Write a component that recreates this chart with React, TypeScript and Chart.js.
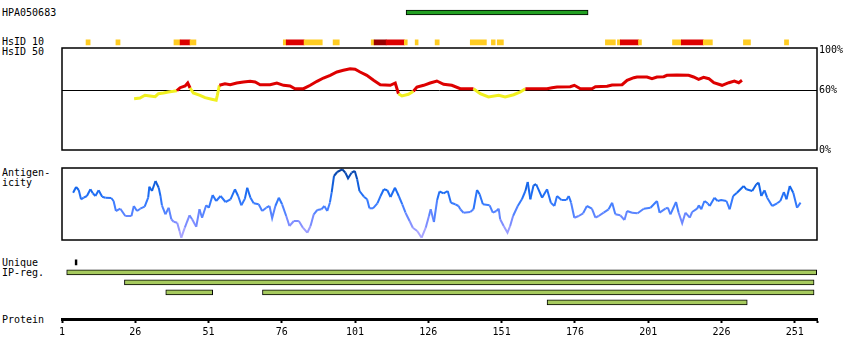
import React, { useEffect, useRef } from 'react';
import { Chart, registerables } from 'chart.js';

Chart.register(...registerables);

// ---------------- data ----------------
const X_MIN = 1;
const X_MAX = 258.6;

const hpaName = 'HPA050683';
const hpaRange = [118.4, 180.5];

// HsID 10 segments (residue start, end, level: 1 = gold, 2 = red, 3 = dark red)
const hsid10Start = [9.2, 19.4, 39.2, 41.3, 44.7, 76.5, 77.5, 83.6, 93.5, 106.5, 107.5, 111.6, 117.8, 121.5, 128.3, 140.3, 147.5, 149.5, 186.4, 190.5, 191.5, 197.7, 209.3, 212.3, 219.8, 233.5, 247.5];
const hsid10End = [10.6, 20.8, 41.3, 44.7, 46.7, 77.5, 83.6, 89.8, 95.6, 107.5, 111.6, 117.8, 118.8, 122.5, 129.7, 145.8, 148.8, 151.6, 189.8, 191.5, 197.7, 198.7, 212.3, 219.8, 222.9, 235.9, 248.9];
const hsid10Level = [1, 1, 1, 2, 1, 1, 2, 1, 1, 1, 3, 2, 1, 1, 1, 1, 1, 1, 1, 1, 2, 1, 1, 2, 1, 1, 1];

// HsID 50 (% identity)
const hsid50Pos = [25.6, 27.6, 29.3, 31, 32.8, 33.9, 35.6, 37.3, 39, 40.2, 41.3, 43, 43.9, 44.7, 45.8, 48.1, 49.8, 52.1, 53.6, 54, 54.7, 56.6, 58.4, 60.6, 62.9, 65.2, 66.9, 68.6, 72, 74.3, 76.6, 78.8, 80.5, 83.4, 85.7, 88, 90.2, 92.5, 94.8, 97, 99.3, 101, 102.7, 105, 107.3, 109.6, 113, 114.7, 115.8, 117, 119.2, 120.9, 122.1, 124.4, 126.6, 128.9, 131.2, 134, 136.9, 141.4, 143.7, 146.5, 150, 152.2, 155.1, 157.4, 159.1, 166.5, 168.2, 169.9, 174.4, 175.8, 177.9, 181.8, 183, 187, 188.7, 192.1, 193.8, 196.1, 197.2, 200.6, 202.3, 204, 206.3, 207.4, 210.8, 214.8, 216.5, 218.2, 219.9, 221.7, 223.4, 226.2, 228.5, 230.4, 231.9, 233];
const hsid50Val = [51.3, 52, 54.7, 54, 53.3, 56.3, 57, 58, 58.7, 59.3, 62.3, 64, 67, 62, 57, 54.7, 52.3, 50.7, 49.7, 54.7, 64.7, 66.3, 65.3, 67, 68, 68.7, 68, 65.3, 65.3, 67, 64.7, 64, 61.3, 61.3, 64.7, 68.7, 72, 74.7, 78, 79.7, 81.3, 80.7, 78, 74.7, 69.7, 65.3, 64.7, 67, 56.3, 54, 55.7, 58.7, 63, 64.7, 67, 69, 65.7, 64.7, 61.3, 61.3, 56.3, 53, 54.7, 53, 55.3, 58, 61.3, 61.3, 62.3, 63, 63.3, 64.7, 61.3, 61.3, 63.3, 63.7, 65, 65.3, 69.7, 72.3, 73, 73, 71.3, 73, 73.3, 74.7, 75, 74.7, 73, 70.7, 72.7, 71.3, 67.3, 64.7, 67.3, 69, 67.3, 69.7];

// Antigenicity score
const antPos = [4.8, 5.8, 6.7, 7.5, 8.4, 9.5, 10.7, 11.5, 12.4, 13.5, 14.7, 15.8, 17.8, 18.6, 19.4, 20.9, 22.6, 24.7, 25.5, 26.6, 27.7, 29.2, 30.4, 30.8, 31.7, 32.9, 34.0, 34.6, 35.1, 36.3, 37.4, 38.3, 39.1, 40.3, 41.1, 41.7, 42.9, 44.5, 45.4, 46.8, 47.9, 48.8, 50.2, 51.1, 52.4, 53.6, 55.1, 56.8, 58.5, 60.0, 61.1, 62.2, 63.4, 64.2, 65.3, 66.4, 68.1, 69.3, 70.7, 71.8, 72.7, 73.8, 75.0, 76.1, 77.5, 78.6, 80.1, 81.8, 83.2, 84.7, 85.8, 86.9, 88.1, 89.5, 90.5, 91.5, 92.4, 93.0, 93.8, 94.9, 96.6, 97.7, 98.6, 99.8, 100.9, 101.7, 102.5, 104.0, 105.1, 105.9, 107.1, 108.6, 109.7, 110.8, 112.0, 113.1, 114.6, 115.9, 117.1, 118.2, 119.6, 120.7, 122.2, 123.7, 125.1, 126.2, 126.8, 127.9, 129.0, 129.8, 131.2, 132.6, 133.7, 135.2, 136.3, 136.9, 138.0, 140.3, 141.4, 142.6, 143.5, 144.6, 146.9, 148.0, 149.2, 150.0, 150.5, 151.7, 153.0, 153.9, 154.9, 156.5, 157.9, 159.1, 159.9, 160.8, 161.9, 162.8, 164.8, 166.5, 167.8, 169.0, 169.9, 171.4, 173.1, 173.9, 174.7, 175.8, 177.3, 178.8, 180.1, 181.8, 183.0, 184.1, 185.8, 187.5, 188.7, 189.8, 191.5, 192.9, 193.8, 195.5, 197.4, 199.5, 201.8, 204.0, 204.9, 206.9, 207.7, 208.6, 210.5, 211.4, 212.6, 213.7, 215.2, 216.0, 217.7, 218.3, 219.1, 220.2, 221.3, 222.0, 223.6, 224.7, 225.9, 227.7, 228.8, 230.0, 231.3, 233.6, 234.5, 236.5, 237.9, 238.7, 239.6, 240.7, 241.6, 243.3, 245.0, 246.1, 247.3, 248.2, 249.3, 250.5, 251.8, 253.0];
const antVal = [47.3, 53, 50, 40.7, 42.3, 44, 50.7, 46.7, 44, 49.7, 43.3, 42.3, 42, 39, 29, 31.3, 24, 24, 34, 29, 31.3, 33.3, 42.3, 53.3, 49, 59, 52.3, 44, 34.7, 25.7, 32.3, 20.7, 18.3, 17.3, 9, 2.3, 12.3, 24.7, 20.7, 13.3, 30.7, 22.3, 34.7, 32.3, 45, 39, 44, 38, 40.7, 50.7, 44, 34.7, 41.3, 52.3, 42.3, 36.7, 35.7, 29, 32.3, 34, 21.7, 34, 42.3, 35.7, 24, 14, 19, 19, 12.3, 7.3, 14, 25.7, 30, 30.7, 34, 29, 37.3, 47.3, 64, 68, 70.7, 67.3, 61.7, 67.3, 69, 60.7, 49, 43.3, 40.7, 31.7, 31.7, 36.7, 44, 50.7, 49.7, 43, 52.3, 44, 35.7, 27.3, 19, 12.3, 9, 2.3, 12.3, 24, 30.7, 18, 40, 48.5, 46.7, 49, 37.3, 35.7, 34, 30.7, 27.3, 28, 30.7, 50, 45.7, 35.7, 34.7, 27.3, 29, 31.3, 20.7, 14, 7.3, 14, 24, 34, 40.7, 49, 58, 40.7, 54.7, 55.7, 42.3, 50.7, 37.3, 34, 44, 40, 40, 44, 37.3, 22.3, 24, 26.7, 34, 31.3, 22.3, 24, 27.3, 30.7, 37.3, 25.7, 24.7, 20, 29, 27.3, 26.7, 31.3, 32.3, 39, 27.3, 31.3, 32.3, 25.7, 38, 27.3, 16.7, 27.3, 22.3, 28, 31.3, 34.7, 30.7, 39, 36.7, 34, 42.3, 39, 40, 39, 30.7, 44, 47.3, 54, 50.7, 49, 55.7, 57.3, 44, 49.7, 42.3, 34, 36.7, 39, 48, 40.7, 54, 47.3, 32.3, 37.3];

// Unique / IP regions
const ipRows = ['Unique', 'IP1', 'IP2', 'IP3', 'IP4'];
const uniqueStart = [5.5];
const uniqueEnd = [6.1];
const ipStart = [2.6, 22.3, 36.4, 69.4, 166.5];
const ipEnd = [258.5, 257.6, 52.4, 257.6, 234.8];
const ipRow = [1, 2, 3, 3, 4];

const proteinTicks = [1, 26, 51, 76, 101, 126, 151, 176, 201, 226, 251];
const pctTicks = [0, 60, 100];

// ---------------- styles ----------------
const FONT = '"DejaVu Sans Mono", monospace';
const RED = '#dd0000';
const YELLOW = '#f0f020';
const LEVEL_COLORS = ['#ffffff', '#ffcc22', '#dd0000', '#990000'];
const GREEN = '#22a022';
const IP_GREEN = '#a6ca5e';

const antStops: [number, number[]][] = [
  [0, [192, 178, 255]],
  [18, [125, 140, 255]],
  [35, [60, 125, 255]],
  [50, [22, 105, 240]],
  [72, [5, 62, 155]],
];
function antColor(v: number) {
  for (let i = 1; i < antStops.length; i++) {
    if (v <= antStops[i][0] || i === antStops.length - 1) {
      const [a, ca] = antStops[i - 1];
      const [b, cb] = antStops[i];
      const t = Math.max(0, Math.min(1, (v - a) / (b - a)));
      const c = ca.map((q, k) => Math.round(q + (cb[k] - q) * t));
      return `rgb(${c[0]},${c[1]},${c[2]})`;
    }
  }
  return 'rgb(22,105,240)';
}

const boxPlugin = {
  id: 'box',
  afterDraw(chart: any) {
    const { ctx, chartArea: a } = chart;
    ctx.save();
    ctx.strokeStyle = '#000';
    ctx.lineWidth = 1.5;
    ctx.strokeRect(a.left, a.top, a.right - a.left, a.bottom - a.top);
    ctx.restore();
  },
};

const xHidden = { type: 'linear', min: X_MIN, max: X_MAX, display: false };

function base(padding: any) {
  return {
    animation: false,
    responsive: false,
    maintainAspectRatio: false,
    events: [],
    layout: { padding },
    plugins: { legend: { display: false }, tooltip: { enabled: false } },
  };
}

function hpaConfig(): any {
  return {
    type: 'bar',
    data: {
      labels: ['HPA'],
      datasets: [{
        label: hpaName,
        data: [{ x: hpaRange, y: 'HPA' }],
        backgroundColor: GREEN,
        borderColor: '#000',
        borderWidth: 1,
        borderSkipped: false,
        barThickness: 5,
      }],
    },
    options: {
      ...base({ left: 62, right: 33, top: 7.5, bottom: 7.5 }),
      indexAxis: 'y',
      scales: { x: xHidden, y: { type: 'category', display: false } },
    },
  };
}

function hsid10Config(): any {
  return {
    type: 'bar',
    data: {
      labels: ['HsID10'],
      datasets: [{
        data: hsid10Start.map((s, i) => ({ x: [s, hsid10End[i]], y: 'HsID10' })),
        backgroundColor: hsid10Level.map((l) => LEVEL_COLORS[l]),
        borderWidth: 0,
        barThickness: 5,
      }],
    },
    options: {
      ...base({ left: 62, right: 33, top: 7.3, bottom: 7.7 }),
      indexAxis: 'y',
      scales: { x: xHidden, y: { type: 'category', display: false } },
    },
  };
}

function hsid50Config(): any {
  return {
    type: 'line',
    data: {
      datasets: [{
        data: hsid50Pos.map((x, i) => ({ x, y: hsid50Val[i] })),
        borderColor: RED,
        borderWidth: 3,
        pointRadius: 0,
        tension: 0,
        segment: {
          borderColor: (c: any) => ((c.p0.parsed.y + c.p1.parsed.y) / 2 >= 60 ? RED : YELLOW),
        },
      }],
    },
    options: {
      ...base({ left: 62, right: 0, top: 8, bottom: 10 }),
      scales: {
        x: xHidden,
        y: {
          type: 'linear',
          position: 'right',
          min: 0,
          max: 102,
          afterBuildTicks: (s: any) => { s.ticks = pctTicks.map((v) => ({ value: v })); },
          afterFit: (s: any) => { s.width = 33; },
          grid: {
            drawTicks: false,
            lineWidth: 1,
            color: (c: any) => (c.tick && c.tick.value === 60 ? '#000' : 'rgba(0,0,0,0)'),
          },
          border: { display: false },
          ticks: {
            padding: 2,
            color: '#000',
            font: { family: FONT, size: 10 },
            callback: (v: any) => v + '%',
          },
        },
      },
    },
    plugins: [boxPlugin],
  };
}

function antConfig(): any {
  return {
    type: 'line',
    data: {
      datasets: [{
        data: antPos.map((x, i) => ({ x, y: antVal[i] })),
        borderColor: antColor(40),
        borderWidth: 2,
        pointRadius: 0,
        tension: 0,
        segment: {
          borderColor: (c: any) => antColor((c.p0.parsed.y + c.p1.parsed.y) / 2),
        },
      }],
    },
    options: {
      ...base({ left: 62, right: 33, top: 8, bottom: 10 }),
      scales: { x: xHidden, y: { type: 'linear', min: 0, max: 72, display: false } },
    },
    plugins: [boxPlugin],
  };
}

function ipConfig(): any {
  return {
    type: 'bar',
    data: {
      labels: ipRows,
      datasets: [
        {
          data: uniqueStart.map((s, i) => ({ x: [s, uniqueEnd[i]], y: ipRows[0] })),
          backgroundColor: '#000',
          borderWidth: 0,
          barThickness: 5,
          grouped: false,
        },
        {
          data: ipStart.map((s, i) => ({ x: [s, ipEnd[i]], y: ipRows[ipRow[i]] })),
          backgroundColor: IP_GREEN,
          borderColor: '#000',
          borderWidth: 1,
          borderSkipped: false,
          barThickness: 5,
          grouped: false,
        },
      ],
    },
    options: {
      ...base({ left: 62, right: 33, top: 7.4, bottom: 7.6 }),
      indexAxis: 'y',
      scales: { x: xHidden, y: { type: 'category', display: false } },
    },
  };
}

function proteinConfig(): any {
  return {
    type: 'line',
    data: { datasets: [] },
    options: {
      ...base({ left: 62, right: 33, top: 0, bottom: 0 }),
      scales: {
        x: {
          type: 'linear',
          min: X_MIN,
          max: X_MAX,
          position: 'bottom',
          afterBuildTicks: (s: any) => { s.ticks = [...proteinTicks, X_MAX].map((v) => ({ value: v })); },
          afterFit: (s: any) => { s.height = 31; },
          grid: { drawOnChartArea: false, drawTicks: true, tickLength: 4, tickWidth: 2, tickColor: '#000' },
          border: { display: true, color: '#000', width: 3 },
          ticks: {
            padding: 3,
            color: '#000',
            maxRotation: 0,
            autoSkip: false,
            font: { family: FONT, size: 10 },
            callback: (v: any) => (proteinTicks.includes(v) ? String(v) : ''),
          },
        },
        y: { display: false },
      },
    },
  };
}

function ChartCanvas({ top, height, config }: { top: number; height: number; config: () => any }) {
  const ref = useRef<HTMLCanvasElement>(null);
  useEffect(() => {
    const chart = new Chart(ref.current as HTMLCanvasElement, config());
    return () => chart.destroy();
  }, []);
  return (
    <canvas
      ref={ref}
      width={850}
      height={height}
      style={{ position: 'absolute', left: 0, top, width: 850, height }}
    />
  );
}

const sideLabels: [string, number][] = [
  [hpaName, 12.7],
  ['HsID 10', 42.3],
  ['HsID 50', 52.3],
  ['Antigen-', 172.7],
  ['icity', 182.7],
  ['Unique', 262.7],
  ['IP-reg.', 273.3],
  ['Protein', 320],
];

export default function App() {
  return (
    <div style={{ position: 'absolute', left: 0, top: 0, width: 850, height: 360, background: '#fff', overflow: 'hidden' }}>
      {sideLabels.map(([t, y], i) => (
        <div
          key={i}
          style={{
            position: 'absolute', left: 2, top: y - 5, font: `10px ${FONT}`, lineHeight: '10px',
            whiteSpace: 'pre', color: '#000',
          }}
        >
          {t}
        </div>
      ))}
      <ChartCanvas top={0} height={25} config={hpaConfig} />
      <ChartCanvas top={30} height={25} config={hsid10Config} />
      <ChartCanvas top={40} height={120} config={hsid50Config} />
      <ChartCanvas top={160} height={90} config={antConfig} />
      <ChartCanvas top={250} height={65} config={ipConfig} />
      <ChartCanvas top={300} height={50} config={proteinConfig} />
    </div>
  );
}
